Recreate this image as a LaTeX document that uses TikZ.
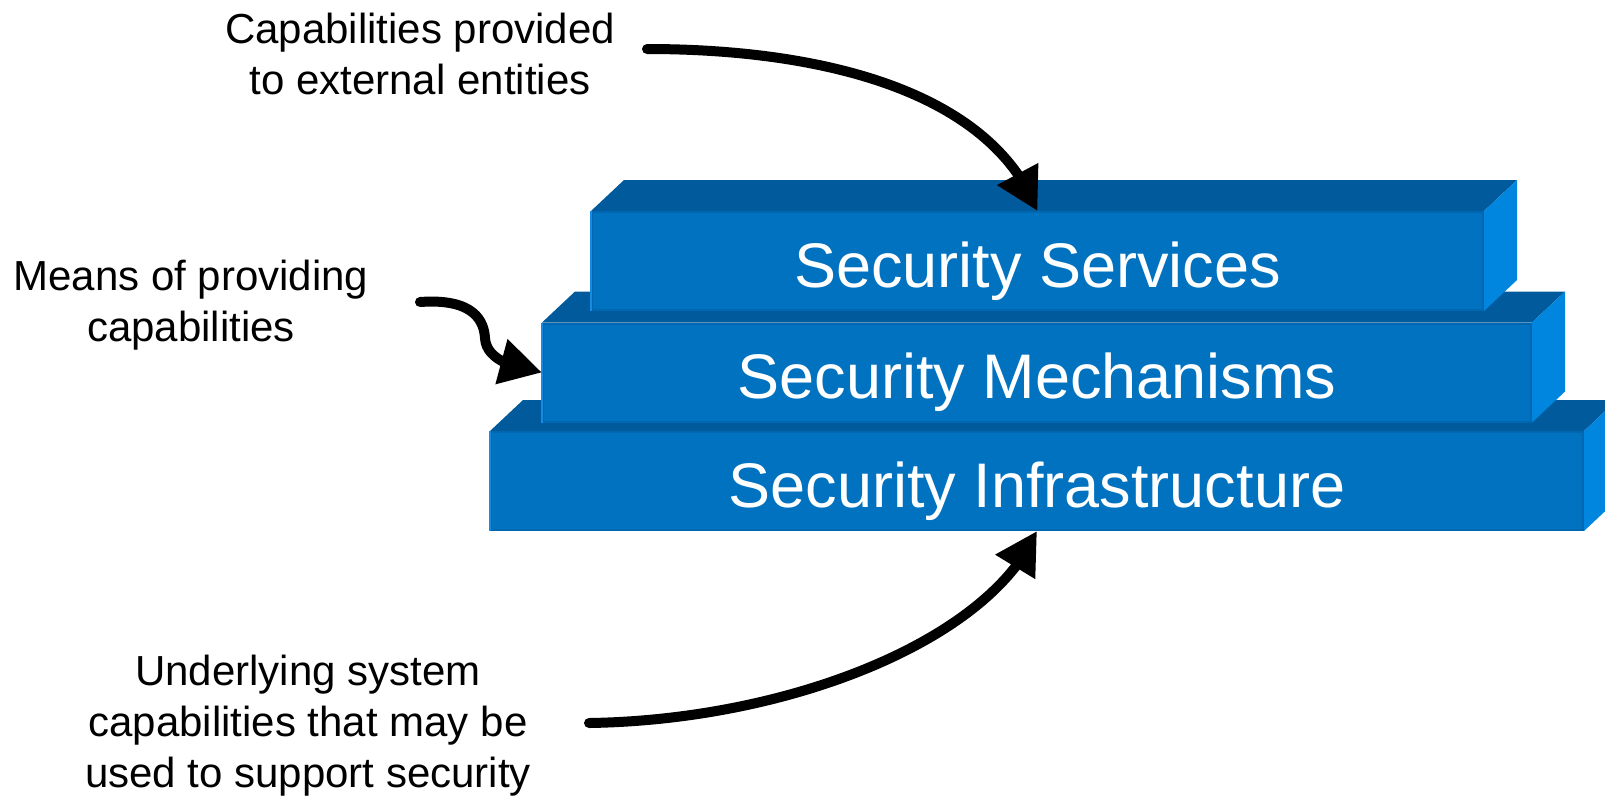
\documentclass[tikz,border=0pt]{standalone}
\usepackage{fontspec}
\setmainfont{Liberation Sans}
\usetikzlibrary{arrows.meta,bending}
\definecolor{layerfront}{RGB}{0,114,192}
\definecolor{layertop}{RGB}{0,90,155}
\definecolor{layerside}{RGB}{0,134,222}
\definecolor{layerrim}{RGB}{0,104,178}
\definecolor{layerlit}{RGB}{20,140,225}
\begin{document}
\begin{tikzpicture}[x=0.5pt,y=-0.5pt,
    frontface/.style={fill=layerfront, draw=layerrim, line width=1pt, inner sep=0pt, text=white, text height=33pt, text depth=7pt, font={\fontsize{31.5}{36}\selectfont}},
    topface/.style={fill=layertop},
    sideface/.style={fill=layerside},
    note/.style={align=center, font={\fontsize{21}{25.5}\selectfont}},
    bigarrow/.style={line width=5pt, line cap=round, -{Triangle[length=21pt,width=22pt]}}]
  \useasboundingbox (0,0) rectangle (1605,799);
  % layers, from the bottom up
  \foreach \name/\cx/\cy/\w/\txt in {infra/1037/481/546pt/Security Infrastructure,mech/1037/372.5/494pt/Security Mechanisms,services/1037.5/261/445.5pt/Security Services} {
    \node[frontface, minimum width=\w, minimum height=49pt] (\name) at (\cx,\cy) {\txt};
    \fill[topface] (\name.north west) -- ++(33,-31) -- ([shift={(33,-31)}]\name.north east) -- (\name.north east) -- cycle;
    \fill[sideface] (\name.north east) -- ++(33,-31) -- ([shift={(33,-31)}]\name.south east) -- (\name.south east) -- cycle;
    \draw[layerlit, line width=1pt] (\name.north west) -- (\name.south west);
  }
  % notes
  \node[note] (provided) at (420,54) {Capabilities provided\\to external entities};
  \node[note] (means) at (191,305) {Means of providing\\capabilities};
  \node[note] (underlying) at (308,726) {Underlying system\\capabilities that may be\\used to support security};
  \coordinate (providedtail) at (647,49);
  \coordinate (meanstail) at (420,302);
  \coordinate (underlyingtail) at (589,723);
  % arrows
  \draw[bigarrow] (providedtail) .. controls (820,49) and (990,90) .. (services.north);
  \draw[bigarrow] (meanstail) .. controls (475,298) and (484,322) .. (485,338) .. controls (486,358) and (510,368) .. (mech.west);
  \draw[bigarrow] (underlyingtail) .. controls (790,720) and (990,640) .. (infra.south);
\end{tikzpicture}
\end{document}
